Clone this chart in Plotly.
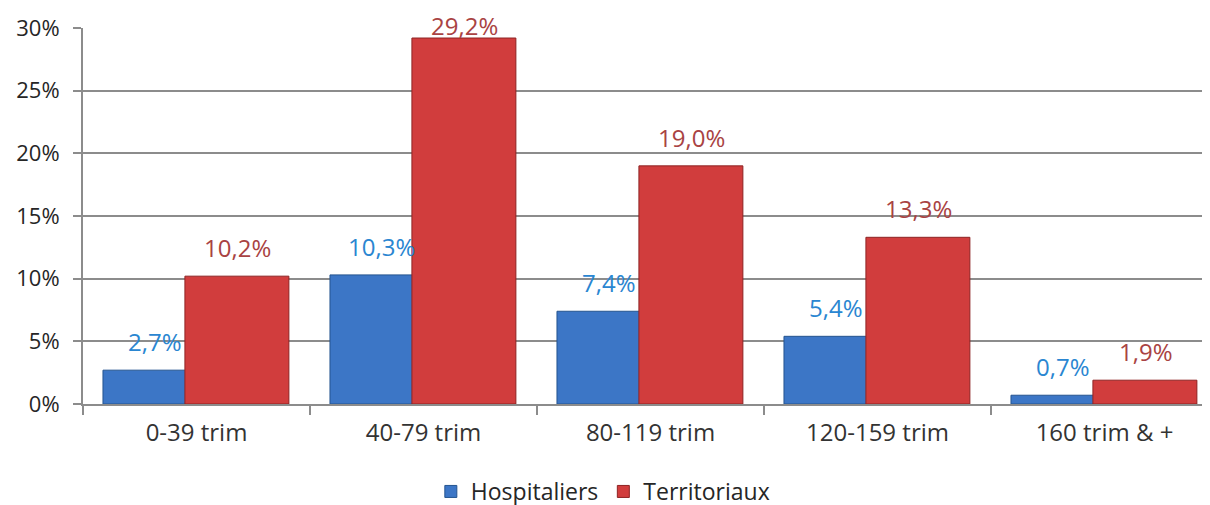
import plotly.graph_objects as go

categories = ['0-39 trim', '40-79 trim', '80-119 trim', '120-159 trim', '160 trim & +']
hospitaliers = [2.7, 10.3, 7.4, 5.4, 0.7]
territoriaux = [10.2, 29.2, 19.0, 13.3, 1.9]
series_names = ['Hospitaliers', 'Territoriaux']

font_dict = dict(family='Open Sans', size=22, color='#262626')
grid_col = '#8c8c8c'

fig = go.Figure()
fig.add_trace(go.Bar(
    x=categories, y=hospitaliers, name=series_names[0],
    width=0.458, offset=-0.412,
    marker=dict(color='#3c76c6', line=dict(color='#24548f', width=1)),
))
fig.add_trace(go.Bar(
    x=categories, y=territoriaux, name=series_names[1],
    width=0.458, offset=-0.051,
    marker=dict(color='#d13d3d', line=dict(color='#8e2323', width=1)),
))

# value labels above the bars
for i, (h, t) in enumerate(zip(hospitaliers, territoriaux)):
    fig.add_annotation(x=i, y=h, text=f'{h:.1f}%'.replace('.', ','),
                       xshift=-42, yshift=10, yanchor='bottom', showarrow=False,
                       font=dict(family='Open Sans', size=24, color='#2a86d1'))
    fig.add_annotation(x=i, y=t, text=f'{t:.1f}%'.replace('.', ','),
                       xshift=41, yshift=10 if t < 25 else -6, yanchor='bottom', showarrow=False,
                       font=dict(family='Open Sans', size=24, color='#a94343'))

fig.update_layout(
    width=1210, height=505,
    barmode='overlay',
    font=font_dict,
    plot_bgcolor='white',
    paper_bgcolor='white',
    margin=dict(l=75, r=0, t=20, b=108),
    showlegend=True,
    legend=dict(orientation='h', x=0.458, xanchor='center', y=-0.233, yanchor='middle',
                font=dict(family='Open Sans', size=23, color='#262626'),
                itemwidth=30),
)
fig.update_yaxes(
    range=[0, 30],
    tickvals=[0, 5, 10, 15, 20, 25, 30],
    ticktext=['0%', '5%', '10%', '15%', '20%', '25%', '30%'],
    tickfont=dict(size=22),
    showgrid=True, gridcolor=grid_col, gridwidth=2,
    showline=True, linecolor=grid_col, linewidth=2,
    ticks='outside', ticklen=8, tickcolor=grid_col, tickwidth=2,
    ticklabelstandoff=9,
    zeroline=False,
)
fig.update_xaxes(
    range=[-0.5, 4.5],
    tickfont=dict(size=24, color='#333333'),
    showline=True, linecolor=grid_col, linewidth=2,
    tickson='boundaries', ticks='outside', ticklen=9, tickcolor=grid_col, tickwidth=2,
    ticklabelstandoff=6,
    showgrid=False,
)

fig.write_html('out.html')
